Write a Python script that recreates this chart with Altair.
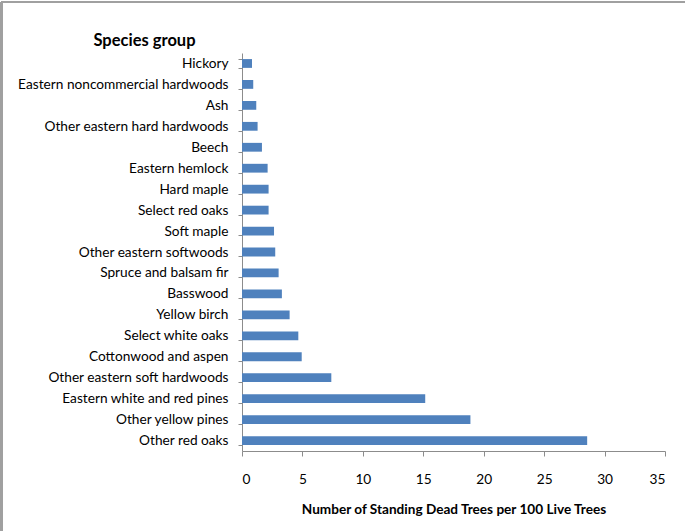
import altair as alt
import pandas as pd

species = [
    "Hickory",
    "Eastern noncommercial hardwoods",
    "Ash",
    "Other eastern hard hardwoods",
    "Beech",
    "Eastern hemlock",
    "Hard maple",
    "Select red oaks",
    "Soft maple",
    "Other eastern softwoods",
    "Spruce and balsam fir",
    "Basswood",
    "Yellow birch",
    "Select white oaks",
    "Cottonwood and aspen",
    "Other eastern soft hardwoods",
    "Eastern white and red pines",
    "Other yellow pines",
    "Other red oaks",
]
dead_per_100 = [
    0.83, 0.93, 1.18, 1.29, 1.65, 2.12, 2.2, 2.2, 2.65, 2.75,
    3.03, 3.3, 3.94, 4.66, 4.94, 7.39, 15.16, 18.9, 28.56,
]
x_ticks = [0, 5, 10, 15, 20, 25, 30, 35]

df = pd.DataFrame({"species": species, "value": dead_per_100})

FONT = "Lato"
AXIS_GREY = "#8c8c8c"
PLOT_W, PLOT_H = 423, 398
PAD_L, PAD_T, PAD_R, PAD_B = 242, 53, 20, 80

bars = alt.Chart(df).mark_bar(color="#4f81bd").encode(
    x=alt.X(
        "value:Q",
        scale=alt.Scale(domain=[0, 35], nice=False),
        axis=alt.Axis(
            values=x_ticks,
            title="Number of Standing Dead Trees per 100 Live Trees",
            titleFont=FONT,
            titleFontSize=13.6,
            titleFontWeight="bold",
            titleColor="#000000",
            titlePadding=17,
            labelFont=FONT,
            labelFontSize=13.7,
            labelColor="#000000",
            labelPadding=16,
            tickSize=5,
            tickColor=AXIS_GREY,
            domainColor=AXIS_GREY,
            grid=False,
        ),
    ),
    y=alt.Y(
        "species:N",
        sort=species,
        scale=alt.Scale(paddingInner=0.58, paddingOuter=0.29),
        axis=alt.Axis(
            title="Species group",
            titleAngle=0,
            titleX=-98,
            titleY=-8,
            titleAlign="center",
            titleBaseline="alphabetic",
            titleFont=FONT,
            titleFontSize=16.5,
            titleFontWeight="bold",
            titleColor="#000000",
            labelFont=FONT,
            labelFontSize=13.7,
            labelColor="#000000",
            labelPadding=10,
            labelLimit=260,
            tickBand="extent",
            tickSize=4,
            tickColor=AXIS_GREY,
            domainColor=AXIS_GREY,
            grid=False,
        ),
    ),
)

# Thin grey frame along the left and top edges of the chart
frame_left = alt.Chart(df).mark_rule(color="#a0a0a0", strokeWidth=1.5).encode(
    x=alt.value(-PAD_L + 1.5),
    y=alt.value(-PAD_T + 2),
    y2=alt.value(PLOT_H + PAD_B),
)
frame_top = alt.Chart(df).mark_rule(color="#a0a0a0", strokeWidth=1.5).encode(
    x=alt.value(-PAD_L + 1.5),
    x2=alt.value(PLOT_W + PAD_R),
    y=alt.value(-PAD_T + 2),
)

chart = (
    alt.layer(bars, frame_left, frame_top)
    .properties(
        width=PLOT_W,
        height=PLOT_H,
        background="white",
        autosize=alt.AutoSizeParams(type="none"),
        padding={"left": PAD_L, "top": PAD_T, "right": PAD_R, "bottom": PAD_B},
    )
    .configure_view(stroke=None)
)

chart.save("out.html", embed_options={"renderer": "svg", "actions": False})
